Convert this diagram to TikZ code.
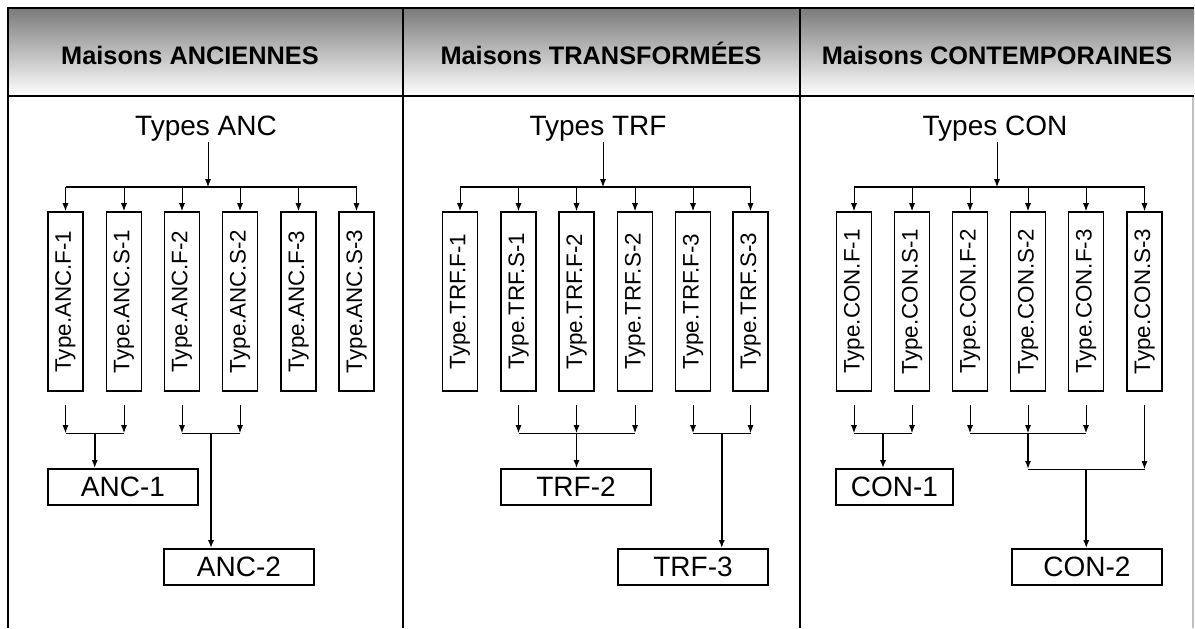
\documentclass[tikz,border=0pt]{standalone}
\usepackage{fontspec}
\setmainfont{Liberation Sans}
\usepackage{graphicx}
\usepackage{tikz}
\usetikzlibrary{positioning, calc, arrows.meta}

\tikzset{
  head/.style={font=\fontsize{19}{22}\selectfont\bfseries, anchor=base},
  typlabel/.style={font=\fontsize{21}{24}\selectfont, inner sep=1pt},
  typebox/.style={draw, line width=1.3pt, rectangle, minimum width=26.25pt, minimum height=134.25pt, inner sep=0pt, font=\fontsize{16.8}{18}\selectfont},
  resbox/.style={draw, line width=1.3pt, rectangle, minimum width=112.5pt, minimum height=27pt, inner sep=0pt, font=\fontsize{21}{24}\selectfont},
  thin arrow/.style={->, line width=0.7pt},
  main arrow/.style={->, line width=1.2pt},
  >={Latex[length=6pt, width=4.6pt]}
}

\begin{document}
\begin{tikzpicture}[x=0.75pt, y=-0.75pt]
      \useasboundingbox (0,0) rectangle (1195,628);

      % table
      \shade[top color=black!52, bottom color=white] (8,8) rectangle (1194,96);
      \draw[black!25, line width=0.8pt] (1193,96) -- (1193,628);
      \draw[line width=1.6pt] (8,628) -- (8,8) -- (1194,8);
      \draw[line width=1.6pt] (8,96) -- (1194,96);
      \draw[line width=1.6pt] (403,8) -- (403,628);
      \draw[line width=1.6pt] (800,8) -- (800,628);

      \node[head] (hanc) at (190,64) {Maisons ANCIENNES};
      \node[head] (htrf) at (601,64) {Maisons TRANSFORMÉES};
      \node[head] (hcon) at (997,64) {Maisons CONTEMPORAINES};

      % ANC
      \node[typlabel, anchor=base] (tanc) at (206,135) {Types ANC};
      \coordinate (busA) at (208,187);
      \node[typebox] (ancF1) at (65.5,301.5) {\rotatebox{90}{Type.ANC.F-1}};
      \node[typebox] (ancS1) at (124,301.5) {\rotatebox{90}{Type.ANC.S-1}};
      \node[typebox] (ancF2) at (182,301.5) {\rotatebox{90}{Type.ANC.F-2}};
      \node[typebox] (ancS2) at (240,301.5) {\rotatebox{90}{Type.ANC.S-2}};
      \node[typebox] (ancF3) at (298.5,301.5) {\rotatebox{90}{Type.ANC.F-3}};
      \node[typebox] (ancS3) at (356.5,301.5) {\rotatebox{90}{Type.ANC.S-3}};
      \node[resbox] (anc1) at (123,487) {ANC-1};
      \node[resbox] (anc2) at (239,567) {ANC-2};

      \draw[thin arrow] (tanc.south -| busA) -- (busA);
      \draw[line width=1pt] (ancF1.north |- busA) -- (ancS3.north |- busA);
      \draw[thin arrow] (ancF1.north |- busA) -- (ancF1.north);
      \draw[thin arrow] (ancS1.north |- busA) -- (ancS1.north);
      \draw[thin arrow] (ancF2.north |- busA) -- (ancF2.north);
      \draw[thin arrow] (ancS2.north |- busA) -- (ancS2.north);
      \draw[thin arrow] (ancF3.north |- busA) -- (ancF3.north);
      \draw[thin arrow] (ancS3.north |- busA) -- (ancS3.north);

      \coordinate (low) at (0,405);
      \coordinate (jA1) at (94.75,433);
      \coordinate (jA2) at (211,433);
      \draw[thin arrow] (ancF1.south |- low) -- (ancF1.south |- jA1);
      \draw[thin arrow] (ancS1.south |- low) -- (ancS1.south |- jA1);
      \draw[line width=0.7pt] (ancF1.south |- jA1) -- (ancS1.south |- jA1);
      \draw[main arrow] (jA1) -- (jA1 |- anc1.north);
      \draw[thin arrow] (ancF2.south |- low) -- (ancF2.south |- jA2);
      \draw[thin arrow] (ancS2.south |- low) -- (ancS2.south |- jA2);
      \draw[line width=0.7pt] (ancF2.south |- jA2) -- (ancS2.south |- jA2);
      \draw[main arrow] (jA2) -- (jA2 |- anc2.north);

      % TRF
      \node[typlabel, anchor=base] (ttrf) at (598,135) {Types TRF};
      \coordinate (busT) at (603,187);
      \node[typebox] (trfF1) at (460,301.5) {\rotatebox{90}{Type.TRF.F-1}};
      \node[typebox] (trfS1) at (518.5,301.5) {\rotatebox{90}{Type.TRF.S-1}};
      \node[typebox] (trfF2) at (576.5,301.5) {\rotatebox{90}{Type.TRF.F-2}};
      \node[typebox] (trfS2) at (635,301.5) {\rotatebox{90}{Type.TRF.S-2}};
      \node[typebox] (trfF3) at (693,301.5) {\rotatebox{90}{Type.TRF.F-3}};
      \node[typebox] (trfS3) at (750.5,301.5) {\rotatebox{90}{Type.TRF.S-3}};
      \node[resbox] (trf2) at (576,487) {TRF-2};
      \node[resbox] (trf3) at (693,567) {TRF-3};

      \draw[thin arrow] (ttrf.south -| busT) -- (busT);
      \draw[line width=1pt] (trfF1.north |- busT) -- (trfS3.north |- busT);
      \draw[thin arrow] (trfF1.north |- busT) -- (trfF1.north);
      \draw[thin arrow] (trfS1.north |- busT) -- (trfS1.north);
      \draw[thin arrow] (trfF2.north |- busT) -- (trfF2.north);
      \draw[thin arrow] (trfS2.north |- busT) -- (trfS2.north);
      \draw[thin arrow] (trfF3.north |- busT) -- (trfF3.north);
      \draw[thin arrow] (trfS3.north |- busT) -- (trfS3.north);

      \coordinate (jT2) at (576.5,433);
      \coordinate (jT3) at (721.75,433);
      \draw[thin arrow] (trfS1.south |- low) -- (trfS1.south |- jT2);
      \draw[thin arrow] (trfF2.south |- low) -- (trfF2.south |- jT2);
      \draw[thin arrow] (trfS2.south |- low) -- (trfS2.south |- jT2);
      \draw[line width=0.7pt] (trfS1.south |- jT2) -- (trfS2.south |- jT2);
      \draw[main arrow] (jT2) -- (jT2 |- trf2.north);
      \draw[thin arrow] (trfF3.south |- low) -- (trfF3.south |- jT3);
      \draw[thin arrow] (trfS3.south |- low) -- (trfS3.south |- jT3);
      \draw[line width=0.7pt] (trfF3.south |- jT3) -- (trfS3.south |- jT3);
      \draw[main arrow] (jT3) -- (jT3 |- trf3.north);

      % CON
      \node[typlabel, anchor=base] (tcon) at (995,135) {Types CON};
      \coordinate (busC) at (997,187);
      \node[typebox] (conF1) at (854,301.5) {\rotatebox{90}{Type.CON.F-1}};
      \node[typebox] (conS1) at (912,301.5) {\rotatebox{90}{Type.CON.S-1}};
      \node[typebox] (conF2) at (970,301.5) {\rotatebox{90}{Type.CON.F-2}};
      \node[typebox] (conS2) at (1028,301.5) {\rotatebox{90}{Type.CON.S-2}};
      \node[typebox] (conF3) at (1086,301.5) {\rotatebox{90}{Type.CON.F-3}};
      \node[typebox] (conS3) at (1144.5,301.5) {\rotatebox{90}{Type.CON.S-3}};
      \node[resbox, minimum width=87.75pt] (con1) at (894.5,487) {CON-1};
      \node[resbox] (con2) at (1087,567) {CON-2};

      \draw[thin arrow] (tcon.south -| busC) -- (busC);
      \draw[line width=1pt] (conF1.north |- busC) -- (conS3.north |- busC);
      \draw[thin arrow] (conF1.north |- busC) -- (conF1.north);
      \draw[thin arrow] (conS1.north |- busC) -- (conS1.north);
      \draw[thin arrow] (conF2.north |- busC) -- (conF2.north);
      \draw[thin arrow] (conS2.north |- busC) -- (conS2.north);
      \draw[thin arrow] (conF3.north |- busC) -- (conF3.north);
      \draw[thin arrow] (conS3.north |- busC) -- (conS3.north);

      \coordinate (jC1) at (883,433);
      \coordinate (jC2) at (1028,433);
      \coordinate (jC3) at (1086.25,469);
      \draw[thin arrow] (conF1.south |- low) -- (conF1.south |- jC1);
      \draw[thin arrow] (conS1.south |- low) -- (conS1.south |- jC1);
      \draw[line width=0.7pt] (conF1.south |- jC1) -- (conS1.south |- jC1);
      \draw[main arrow] (jC1) -- (jC1 |- con1.north);
      \draw[thin arrow] (conF2.south |- low) -- (conF2.south |- jC2);
      \draw[thin arrow] (conS2.south |- low) -- (conS2.south |- jC2);
      \draw[thin arrow] (conF3.south |- low) -- (conF3.south |- jC2);
      \draw[line width=0.7pt] (conF2.south |- jC2) -- (conF3.south |- jC2);
      \draw[main arrow] (jC2) -- (jC2 |- jC3);
      \draw[thin arrow] (conS3.south |- low) -- (conS3.south |- jC3);
      \draw[line width=0.7pt] (jC2 |- jC3) -- (conS3.south |- jC3);
      \draw[main arrow] (jC3) -- (jC3 |- con2.north);
    \end{tikzpicture}
\end{document}
